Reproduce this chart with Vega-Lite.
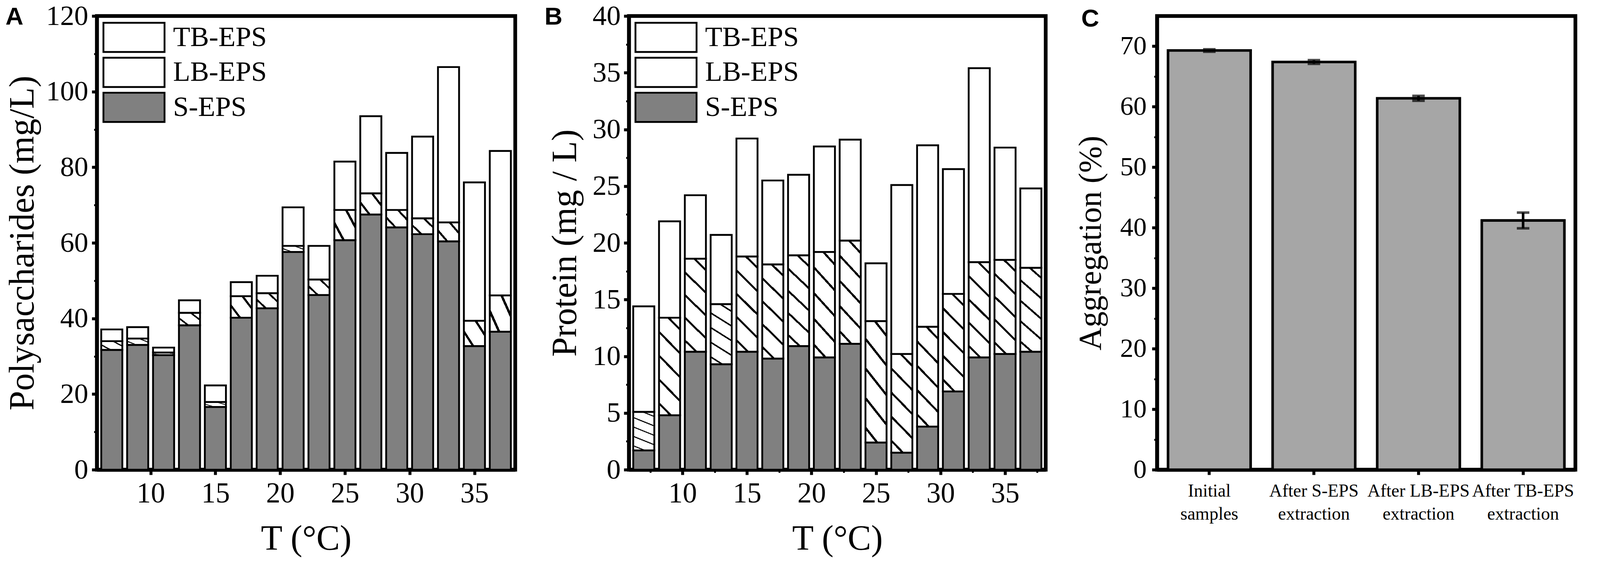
{
  "$schema": "https://vega.github.io/schema/vega-lite/v6.json",
  "padding": {"left": 8, "top": 0, "right": 0, "bottom": 0},
  "autosize": {"type": "pad"},
  "background": "white",
  "datasets": {
    "poly": [
      {"T": 7, "s": 31.7, "lb": 34.0, "tb": 37.1},
      {"T": 9, "s": 33.0, "lb": 34.7, "tb": 37.7},
      {"T": 11, "s": 30.3, "lb": 31.0, "tb": 32.3},
      {"T": 13, "s": 38.2, "lb": 41.5, "tb": 44.8},
      {"T": 15, "s": 16.6, "lb": 17.9, "tb": 22.3},
      {"T": 17, "s": 40.2, "lb": 45.9, "tb": 49.6},
      {"T": 19, "s": 42.7, "lb": 46.7, "tb": 51.3},
      {"T": 21, "s": 57.6, "lb": 59.2, "tb": 69.4},
      {"T": 23, "s": 46.2, "lb": 50.3, "tb": 59.2},
      {"T": 25, "s": 60.7, "lb": 68.7, "tb": 81.5},
      {"T": 27, "s": 67.5, "lb": 73.1, "tb": 93.5},
      {"T": 29, "s": 64.1, "lb": 68.7, "tb": 83.8},
      {"T": 31, "s": 62.3, "lb": 66.5, "tb": 88.1},
      {"T": 33, "s": 60.4, "lb": 65.4, "tb": 106.5},
      {"T": 35, "s": 32.7, "lb": 39.4, "tb": 76.0},
      {"T": 37, "s": 36.5, "lb": 46.1, "tb": 84.3}
    ],
    "prot": [
      {"T": 7, "s": 1.7, "lb": 5.1, "tb": 14.4},
      {"T": 9, "s": 4.8, "lb": 13.4, "tb": 21.9},
      {"T": 11, "s": 10.4, "lb": 18.6, "tb": 24.2},
      {"T": 13, "s": 9.3, "lb": 14.6, "tb": 20.7},
      {"T": 15, "s": 10.4, "lb": 18.8, "tb": 29.2},
      {"T": 17, "s": 9.8, "lb": 18.1, "tb": 25.5},
      {"T": 19, "s": 10.9, "lb": 18.9, "tb": 26.0},
      {"T": 21, "s": 9.9, "lb": 19.2, "tb": 28.5},
      {"T": 23, "s": 11.1, "lb": 20.2, "tb": 29.1},
      {"T": 25, "s": 2.4, "lb": 13.1, "tb": 18.2},
      {"T": 27, "s": 1.5, "lb": 10.2, "tb": 25.1},
      {"T": 29, "s": 3.8, "lb": 12.6, "tb": 28.6},
      {"T": 31, "s": 6.9, "lb": 15.5, "tb": 26.5},
      {"T": 33, "s": 9.9, "lb": 18.3, "tb": 35.4},
      {"T": 35, "s": 10.2, "lb": 18.5, "tb": 28.4},
      {"T": 37, "s": 10.4, "lb": 17.8, "tb": 24.8}
    ],
    "agg": [
      {"stage": "Initial samples", "agg": 69.3, "err": 0.2},
      {"stage": "After S-EPS extraction", "agg": 67.4, "err": 0.3},
      {"stage": "After LB-EPS extraction", "agg": 61.4, "err": 0.4},
      {"stage": "After TB-EPS extraction", "agg": 41.2, "err": 1.3}
    ]
  },
  "spacing": 65,
  "resolve": {"scale": {"fill": "independent"}, "legend": {"fill": "independent"}},
  "hconcat": [
    {
      "width": 1071,
      "height": 1162,
      "title": {"text": "A", "dx": -234, "offset": -71},
      "data": {"name": "poly"},
      "resolve": {"axis": {"x": "independent", "y": "independent"}},
      "layer": [
        {
          "mark": {"type": "bar", "width": 54, "stroke": "black", "strokeWidth": 4.7},
          "encoding": {
            "x": {"field": "T", "type": "quantitative", "scale": {"domain": [6, 38], "nice": false, "zero": false},
              "axis": {"orient": "bottom", "values": [10, 15, 20, 25, 30, 35], "title": "T (°C)", "labelFontSize": 73, "titleFontSize": 90, "labelPadding": 12, "titlePadding": 35, "labelFlush": false}},
            "y": {"field": "s", "type": "quantitative", "scale": {"domain": [0, 120], "nice": false},
              "axis": {"orient": "left", "values": [0, 20, 40, 60, 80, 100, 120], "title": "Polysaccharides (mg/L)", "labelFontSize": 72, "titleFontSize": 90, "labelPadding": 9.5, "minExtent": 131, "maxExtent": 131, "titlePadding": 13}},
            "fill": {"datum": "S-EPS", "type": "nominal",
              "scale": {"domain": ["TB-EPS", "LB-EPS", "S-EPS"], "range": ["white", "white", "#808080"]}}
          }
        },
        {
          "mark": {"type": "bar", "width": 54, "stroke": "black", "strokeWidth": 4.7,
            "fill": {"gradient": "linear", "x1": 0, "y1": 1, "x2": 1.111, "y2": 0.145, "stops": [
              {"offset": 0, "color": "white"}, {"offset": 0.215, "color": "white"}, {"offset": 0.215, "color": "black"}, {"offset": 0.285, "color": "black"}, {"offset": 0.285, "color": "white"},
              {"offset": 0.715, "color": "white"}, {"offset": 0.715, "color": "black"}, {"offset": 0.785, "color": "black"}, {"offset": 0.785, "color": "white"}, {"offset": 1, "color": "white"}]}},
          "encoding": {
            "x": {"field": "T", "type": "quantitative", "scale": {"domain": [6, 38], "nice": false, "zero": false}, "axis": null},
            "y": {"field": "lb", "type": "quantitative", "scale": {"domain": [0, 120], "nice": false}, "axis": null},
            "y2": {"field": "s"}
          }
        },
        {
          "mark": {"type": "bar", "width": 54, "stroke": "black", "strokeWidth": 4.7},
          "encoding": {
            "x": {"field": "T", "type": "quantitative", "scale": {"domain": [6, 38], "nice": false, "zero": false}, "axis": null},
            "y": {"field": "tb", "type": "quantitative", "scale": {"domain": [0, 120], "nice": false}, "axis": null},
            "y2": {"field": "lb"},
            "fill": {"datum": "TB-EPS", "type": "nominal"}
          }
        },
        {
          "mark": {"type": "bar", "width": 1, "opacity": 0},
          "encoding": {
            "x": {"field": "T", "type": "quantitative", "scale": {"domain": [6, 38], "nice": false, "zero": false}, "axis": null},
            "y": {"field": "s", "type": "quantitative", "scale": {"domain": [0, 120], "nice": false},
              "axis": {"orient": "left", "values": [10, 30, 50, 70, 90, 110], "labels": false, "domain": false, "tickSize": 7.6, "tickWidth": 4.7, "title": null}}
          }
        }
      ]
    },
    {
      "width": 1067,
      "height": 1162,
      "title": {"text": "B", "dx": -216, "offset": -71},
      "data": {"name": "prot"},
      "resolve": {"axis": {"x": "independent", "y": "independent"}},
      "layer": [
        {
          "mark": {"type": "bar", "width": 54, "stroke": "black", "strokeWidth": 4.7},
          "encoding": {
            "x": {"field": "T", "type": "quantitative", "scale": {"domain": [6, 38], "nice": false, "zero": false},
              "axis": {"orient": "bottom", "values": [10, 15, 20, 25, 30, 35], "title": "T (°C)", "labelFontSize": 73, "titleFontSize": 90, "labelPadding": 12, "titlePadding": 35, "labelFlush": false}},
            "y": {"field": "s", "type": "quantitative", "scale": {"domain": [0, 40], "nice": false},
              "axis": {"orient": "left", "values": [0, 5, 10, 15, 20, 25, 30, 35, 40], "title": "Protein (mg / L)", "labelFontSize": 72, "titleFontSize": 90, "labelPadding": 8.5, "minExtent": 94, "maxExtent": 94, "titlePadding": 22.7}},
            "fill": {"datum": "S-EPS", "type": "nominal",
              "scale": {"domain": ["TB-EPS", "LB-EPS", "S-EPS"], "range": ["white", "white", "#808080"]}}
          }
        },
        {
          "mark": {"type": "bar", "width": 54, "stroke": "black", "strokeWidth": 4.7,
            "fill": {"gradient": "linear", "x1": 0, "y1": 1, "x2": 0.256, "y2": -0.164, "stops": [
              {"offset": 0, "color": "white"}, {"offset": 0.088, "color": "white"}, {"offset": 0.088, "color": "black"}, {"offset": 0.112, "color": "black"}, {"offset": 0.112, "color": "white"},
              {"offset": 0.288, "color": "white"}, {"offset": 0.288, "color": "black"}, {"offset": 0.312, "color": "black"}, {"offset": 0.312, "color": "white"},
              {"offset": 0.488, "color": "white"}, {"offset": 0.488, "color": "black"}, {"offset": 0.512, "color": "black"}, {"offset": 0.512, "color": "white"},
              {"offset": 0.688, "color": "white"}, {"offset": 0.688, "color": "black"}, {"offset": 0.712, "color": "black"}, {"offset": 0.712, "color": "white"},
              {"offset": 0.888, "color": "white"}, {"offset": 0.888, "color": "black"}, {"offset": 0.912, "color": "black"}, {"offset": 0.912, "color": "white"}, {"offset": 1, "color": "white"}]}},
          "encoding": {
            "x": {"field": "T", "type": "quantitative", "scale": {"domain": [6, 38], "nice": false, "zero": false}, "axis": null},
            "y": {"field": "lb", "type": "quantitative", "scale": {"domain": [0, 40], "nice": false}, "axis": null},
            "y2": {"field": "s"}
          }
        },
        {
          "mark": {"type": "bar", "width": 54, "stroke": "black", "strokeWidth": 4.7},
          "encoding": {
            "x": {"field": "T", "type": "quantitative", "scale": {"domain": [6, 38], "nice": false, "zero": false}, "axis": null},
            "y": {"field": "tb", "type": "quantitative", "scale": {"domain": [0, 40], "nice": false}, "axis": null},
            "y2": {"field": "lb"},
            "fill": {"datum": "TB-EPS", "type": "nominal"}
          }
        },
        {
          "mark": {"type": "bar", "width": 1, "opacity": 0},
          "encoding": {
            "x": {"field": "T", "type": "quantitative", "scale": {"domain": [6, 38], "nice": false, "zero": false},
              "axis": {"orient": "bottom", "values": [7.5, 12.5, 17.5, 22.5, 27.5, 32.5, 37.5], "labels": false, "domain": false, "tickSize": 7.6, "tickWidth": 4.7, "title": null}},
            "y": {"field": "s", "type": "quantitative", "scale": {"domain": [0, 40], "nice": false},
              "axis": {"orient": "left", "values": [2.5, 7.5, 12.5, 17.5, 22.5, 27.5, 32.5, 37.5], "labels": false, "domain": false, "tickSize": 7.6, "tickWidth": 4.7, "title": null}}
          }
        }
      ]
    },
    {
      "width": 1071,
      "height": 1162,
      "title": {"text": "C", "dx": -194, "offset": -40},
      "data": {"name": "agg"},
      "resolve": {"axis": {"y": "independent"}},
      "layer": [
        {
          "mark": {"type": "bar", "fill": "#a6a6a6", "stroke": "black", "strokeWidth": 6.6},
          "encoding": {
            "x": {"field": "stage", "type": "nominal", "sort": null,
              "scale": {"paddingInner": 0.21, "paddingOuter": 0.105},
              "axis": {"orient": "bottom", "title": null, "labelAngle": 0, "labelFontSize": 46, "labelLineHeight": 59, "labelPadding": 19, "labelOverlap": false,
                "labelExpr": "datum.label == 'Initial samples' ? ['Initial', 'samples'] : [replace(datum.label, ' extraction', ''), 'extraction']"}},
            "y": {"field": "agg", "type": "quantitative", "scale": {"domain": [0, 75], "nice": false},
              "axis": {"orient": "left", "values": [0, 10, 20, 30, 40, 50, 60, 70], "title": "Aggregation (%)", "labelFontSize": 68, "titleFontSize": 81.5, "labelPadding": 14, "minExtent": 96, "maxExtent": 96, "titlePadding": 32}}
          }
        },
        {
          "mark": {"type": "errorbar", "ticks": {"size": 32, "thickness": 6.6, "color": "black"}, "rule": {"strokeWidth": 6.6, "color": "black"}},
          "encoding": {
            "x": {"field": "stage", "type": "nominal", "sort": null},
            "y": {"field": "agg", "type": "quantitative", "scale": {"domain": [0, 75], "nice": false},
              "axis": {"orient": "left", "values": [5, 15, 25, 35, 45, 55, 65], "labels": false, "domain": false, "tickSize": 7.6, "tickWidth": 4.7, "title": null}},
            "yError": {"field": "err"}
          }
        }
      ]
    }
  ],
  "config": {
    "view": {"stroke": "black", "strokeWidth": 9.5},
    "axis": {
      "labelFont": "Liberation Serif", "titleFont": "Liberation Serif", "labelColor": "black", "titleColor": "black",
      "titleFontWeight": "normal", "domainColor": "black", "domainWidth": 9.5, "tickColor": "black", "tickWidth": 7.6, "tickSize": 13,
      "grid": false, "labelLimit": 0, "labelBound": false, "zindex": 1
    },
    "legend": {
      "orient": "top-left", "offset": 14, "title": null, "padding": 0,
      "symbolType": "M-1,-0.479H1V0.479H-1Z", "symbolSize": 24462,
      "symbolStrokeColor": "black", "symbolStrokeWidth": 4.7, "symbolOpacity": 1,
      "labelFont": "Liberation Serif", "labelFontSize": 72, "labelColor": "black", "labelOffset": 19, "labelLimit": 0,
      "clipHeight": 81.5, "rowPadding": 7.6
    },
    "title": {"font": "Liberation Sans", "fontWeight": "bold", "fontSize": 63.5, "color": "black", "anchor": "start", "frame": "group"}
  }
}
